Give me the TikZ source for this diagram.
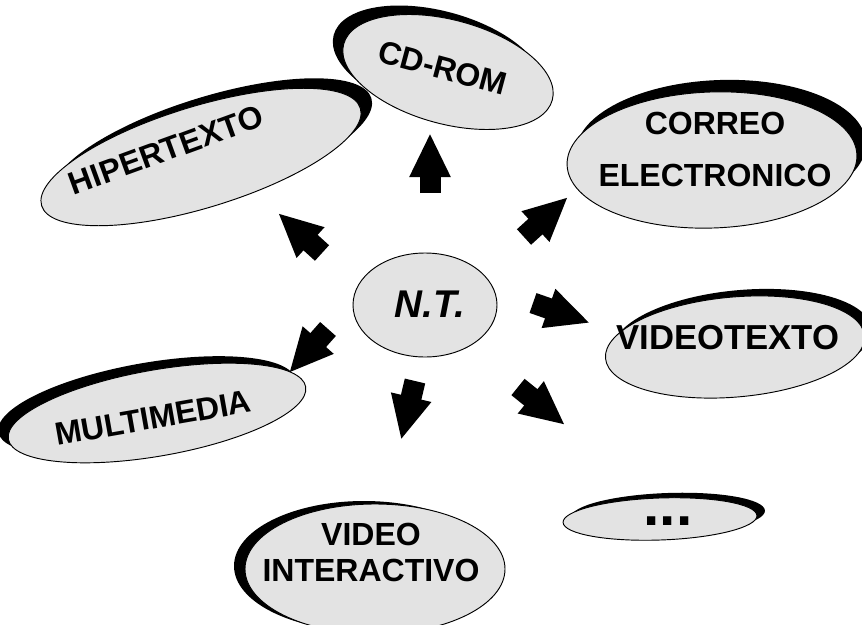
\documentclass[tikz,border=0pt]{standalone}
\usepackage{fontspec}
\setmainfont{Liberation Sans}
\usetikzlibrary{shapes.geometric, arrows.meta}

\newcommand{\bubfont}{\fontsize{24}{39}\selectfont\bfseries}

\tikzset{
  bubble/.style={ellipse, draw=black, line width=0.7pt, fill=black!11, inner sep=0pt},
  crescent/.style={ellipse, fill=black, inner sep=0pt},
  bubtext/.style={inner sep=0.75pt, align=center, font=\bubfont},
  blockarrow/.style={line width=15.75pt, -{Triangle[length=33pt, width=28.5pt]}},
}

\begin{document}
\begin{tikzpicture}[x=0.75pt,y=0.75pt,yscale=-1,xscale=1]
\useasboundingbox (0,0) rectangle (862,624);

%Ellipse CD-ROM
\node [crescent, rotate=-15, minimum width=162pt, minimum height=78pt] (cdsh) at (438,63) {};
\node [bubble, rotate=-15, minimum width=162pt, minimum height=78pt] (cd) at (448,72) {};
%Ellipse HIPERTEXTO
\node [crescent, rotate=17, minimum width=250pt, minimum height=76pt] (hipsh) at (212,147) {};
\node [bubble, rotate=17, minimum width=250pt, minimum height=76pt] (hip) at (201,157) {};
%Ellipse CORREO
\node [crescent, rotate=2, minimum width=217.5pt, minimum height=102pt] (corsh) at (721,148) {};
\node [bubble, rotate=2, minimum width=217.5pt, minimum height=102pt] (cor) at (712,160) {};
%Ellipse N.T.
\node [bubble, minimum width=108pt, minimum height=78pt] (nt) at (425,305) {};
%Ellipse VIDEOTEXTO
\node [crescent, rotate=5, minimum width=195pt, minimum height=75pt] (vtxsh) at (742,340) {};
\node [bubble, rotate=5, minimum width=195pt, minimum height=75pt] (vtx) at (735,347) {};
%Ellipse MULTIMEDIA
\node [crescent, rotate=10, minimum width=226.5pt, minimum height=64.5pt] (mulsh) at (147,406) {};
\node [bubble, rotate=10, minimum width=226.5pt, minimum height=64.5pt] (mul) at (157,413) {};
%Ellipse VIDEO INTERACTIVO
\node [crescent, minimum width=195pt, minimum height=97.5pt] (vinsh) at (364,566) {};
\node [bubble, minimum width=195pt, minimum height=97.5pt] (vin) at (375,569) {};
%Ellipse dots
\node [crescent, rotate=2, minimum width=145.5pt, minimum height=31.5pt] (dotsh) at (668,514) {};
\node [bubble, rotate=2, minimum width=145.5pt, minimum height=31.5pt] (dot) at (660,519) {};

% Text Node
\draw (443,68) node [bubtext, rotate=-15] (cdtxt) {CD-ROM};
% Text Node
\draw (166,150) node [bubtext, rotate=20] (hiptxt) {HIPERTEXTO};
% Text Node
\draw (715,149) node [bubtext] (cortxt) {CORREO\\ELECTRONICO};
% Text Node
\draw (430,304) node [inner sep=0.75pt, font=\fontsize{29}{35}\selectfont\bfseries\itshape] (nttxt) {N.T.};
% Text Node
\draw (728,338) node [bubtext, font=\fontsize{26}{39}\selectfont\bfseries] (vtxtxt) {VIDEOTEXTO};
% Text Node
\draw (153,418) node [bubtext, rotate=10] (multxt) {MULTIMEDIA};
% Text Node
\draw (371,552) node [bubtext, font=\fontsize{24}{27}\selectfont\bfseries] (vintxt) {VIDEO\\INTERACTIVO};
% Text Node
\draw (668,521) node [inner sep=0.75pt, font=\fontsize{44}{44}\selectfont\bfseries] (dottxt) {...};

%Block Arrows
\coordinate (a1t) at (430,193);  \coordinate (a1h) at (430,133);
\coordinate (a2t) at (322,253);  \coordinate (a2h) at (278,213);
\coordinate (a3t) at (524,237);  \coordinate (a3h) at (568,197);
\coordinate (a4t) at (533,303);  \coordinate (a4h) at (590,323);
\coordinate (a5t) at (518,387);  \coordinate (a5h) at (565,425);
\coordinate (a6t) at (415,381);  \coordinate (a6h) at (401,440);
\coordinate (a7t) at (328,329);  \coordinate (a7h) at (289,373);
\draw [blockarrow] (a1t) -- (a1h) ;
\draw [blockarrow] (a2t) -- (a2h) ;
\draw [blockarrow] (a3t) -- (a3h) ;
\draw [blockarrow] (a4t) -- (a4h) ;
\draw [blockarrow] (a5t) -- (a5h) ;
\draw [blockarrow] (a6t) -- (a6h) ;
\draw [blockarrow] (a7t) -- (a7h) ;

\end{tikzpicture}
\end{document}
